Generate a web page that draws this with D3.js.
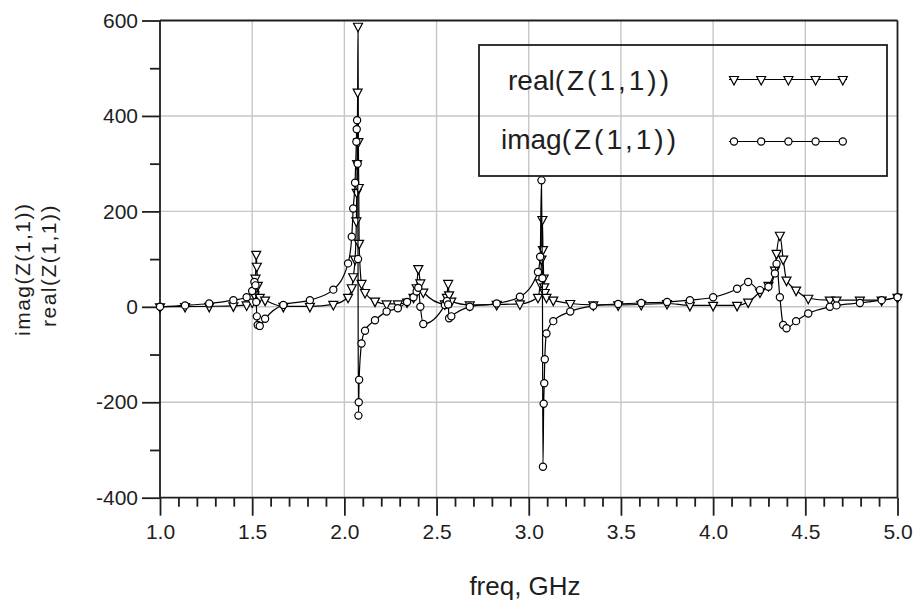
<!DOCTYPE html>
<html>
<head>
<meta charset="utf-8">
<script src="https://cdn.jsdelivr.net/npm/d3@7"></script>
<style>
  body { margin: 0; background: #fff; }
  svg { display: block; }
  text { font-family: "Liberation Sans", Arial, sans-serif; fill: #1e1e1e; }
</style>
</head>
<body>
<svg id="chart" width="916" height="605"></svg>
<script>
// Sweep frequencies (GHz) shared by both traces
const freq = [
  1.000, 1.136, 1.267, 1.398, 1.470, 1.500, 1.512, 1.518, 1.522, 1.525, 1.530, 1.541, 1.570,
  1.669, 1.813, 1.940, 2.020, 2.040, 2.048, 2.058, 2.065, 2.067, 2.069, 2.072, 2.074, 2.076,
  2.078, 2.080, 2.093, 2.112, 2.166, 2.229, 2.290, 2.340, 2.375, 2.392, 2.401, 2.412, 2.428,
  2.545, 2.556, 2.563, 2.568, 2.580, 2.680, 2.826, 2.952, 3.050, 3.062, 3.069, 3.074, 3.077,
  3.081, 3.084, 3.087, 3.096, 3.133, 3.225, 3.350, 3.485, 3.610, 3.750, 3.874, 4.000, 4.130,
  4.190, 4.254, 4.300, 4.335, 4.344, 4.362, 4.380, 4.398, 4.450, 4.516, 4.633, 4.669, 4.796,
  4.914, 5.000
];
// real(Z(1,1))
const realZ = [
  0, 0.5, 1, 2, 4, 10, 25, 60, 110, 85, 45, 20, 14,
  1, 1, 5, 20, 40, 63, 100, 180, 240, 300, 450, 588, 346,
  250, 133, 49, 30, 12, 6, 6, 10, 20, 40, 80, 50, 31,
  6, 20, 49, 25, 12, 4, 5, 6, 20, 50, 100, 183, 120,
  60, 42, 30, 20, 14, 7, 4, 4, 5, 7, 3, 3, 3,
  10, 31, 45, 77, 112, 150, 100, 56, 35, 18, 14, 14, 14,
  14, 20
];
// imag(Z(1,1))
const imagZ = [
  0, 3, 7, 14, 20, 33, 52, 45, 10, -20, -38, -40, -25,
  4, 14, 36, 91, 147, 206, 260, 346, 372, 391, 300, 100, -228,
  -200, -153, -77, -50, -28, -10, -3, 10, 20, 32, 40, 0, -36,
  4, 12, 5, -24, -20, 0, 7, 21, 73, 105, 265, 60, -335,
  -203, -160, -110, -56, -30, -10, 2, 6, 8, 10, 14, 20, 38,
  52, 35, 42, 70, 90, 20, -38, -45, -30, -14, 0, 3, 8,
  14, 20
];

const xMajorTicks = [1.0, 1.5, 2.0, 2.5, 3.0, 3.5, 4.0, 4.5, 5.0];
const yMajorTicks = [-400, -200, 0, 200, 400, 600];
const seriesNames = ["real(Z(1,1))", "imag(Z(1,1))"];
const xTitle = "freq, GHz";

const svg = d3.select("#chart");
const plotL = 160, plotR = 897.5, plotT = 20.5, plotB = 497.7;

const x = d3.scaleLinear().domain([1, 5]).range([plotL, plotR]);
const y = d3.scaleLinear().domain([-400, 600]).range([plotB, plotT]);

const xMinor = d3.range(10, 51).map(d => d / 10).filter(v => !xMajorTicks.some(t => Math.abs(t - v) < 1e-9));
const yMinor = d3.range(-300, 600, 200);

// grid
const grid = svg.append("g").attr("stroke", "#c6c6c6").attr("stroke-width", 1.4);
xMajorTicks.filter(t => t > 1 && t < 5).forEach(t =>
  grid.append("line").attr("x1", x(t)).attr("x2", x(t)).attr("y1", plotT).attr("y2", plotB));
yMajorTicks.filter(t => t > -400 && t < 600).forEach(t =>
  grid.append("line").attr("x1", plotL).attr("x2", plotR).attr("y1", y(t)).attr("y2", y(t)));

// axes
function styleAxis(g) {
  g.select(".domain").remove();
  g.selectAll(".tick line").attr("stroke", "#1e1e1e").attr("stroke-width", 1.8);
}
const labelFont = g => g.selectAll("text").attr("font-size", 21).attr("fill", "#1e1e1e")
  .attr("font-family", "'Liberation Sans', Arial, sans-serif");
svg.append("g").attr("transform", `translate(0,${plotB})`)
  .call(d3.axisBottom(x).tickValues(xMinor).tickSize(9).tickFormat(""))
  .call(styleAxis);
svg.append("g").attr("transform", `translate(0,${plotB})`)
  .call(d3.axisBottom(x).tickValues(xMajorTicks).tickSize(18).tickPadding(8).tickFormat(d => d.toFixed(1)))
  .call(styleAxis).call(labelFont);
svg.append("g").attr("transform", `translate(${plotL},0)`)
  .call(d3.axisLeft(y).tickValues(yMinor).tickSize(10).tickFormat(""))
  .call(styleAxis);
svg.append("g").attr("transform", `translate(${plotL},0)`)
  .call(d3.axisLeft(y).tickValues(yMajorTicks).tickSize(18).tickPadding(4).tickFormat(d => String(d)))
  .call(styleAxis).call(labelFont);

// frame
const frame = svg.append("g").attr("stroke", "#1e1e1e").attr("stroke-width", 1.8).attr("fill", "none");
frame.append("line").attr("x1", plotL).attr("x2", plotL).attr("y1", plotT).attr("y2", plotB);
frame.append("line").attr("x1", plotL).attr("x2", plotR).attr("y1", plotT).attr("y2", plotT);
frame.append("line").attr("x1", plotR).attr("x2", plotR).attr("y1", plotT).attr("y2", plotB);
frame.append("line").attr("x1", plotL).attr("x2", plotR).attr("y1", plotB).attr("y2", plotB);

// markers: open down-triangle for real, open circle for imag
const triPath = "M-4.5,-3L4.5,-3L0,5.5Z";
function drawMarker(g, kind, cx, cy) {
  if (kind === 0) {
    g.append("path").attr("d", triPath).attr("transform", `translate(${cx},${cy})`)
      .attr("fill", "#fff").attr("stroke", "#000").attr("stroke-width", 1.2);
  } else {
    g.append("circle").attr("cx", cx).attr("cy", cy).attr("r", 3.6)
      .attr("fill", "#fff").attr("stroke", "#000").attr("stroke-width", 1.2);
  }
}

// traces
const series = [realZ, imagZ];
const line = d3.line().x(d => x(d[0])).y(d => y(d[1])).curve(d3.curveMonotoneX);
series.forEach((vals, k) => {
  const pts = freq.map((f, i) => [f, vals[i]]);
  const g = svg.append("g");
  g.append("path").attr("d", line(pts)).attr("fill", "none").attr("stroke", "#000").attr("stroke-width", 1.2);
  pts.forEach(p => drawMarker(g, k, x(p[0]), y(p[1])));
});

// legend
const lg = svg.append("g");
lg.append("rect").attr("x", 479).attr("y", 45).attr("width", 408).attr("height", 131)
  .attr("fill", "none").attr("stroke", "#1e1e1e").attr("stroke-width", 1.8);
const legendRows = [{ ty: 90, ly: 79.5 }, { ty: 149, ly: 141.5 }];
seriesNames.forEach((name, k) => {
  const r = legendRows[k];
  const cut = name.indexOf("(");
  const t = lg.append("text").attr("x", 590).attr("y", r.ty).attr("text-anchor", "middle").attr("font-size", 28);
  t.append("tspan").text(name.slice(0, cut));
  t.append("tspan").attr("letter-spacing", 3).text(name.slice(cut));
  lg.append("line").attr("x1", 729).attr("x2", 847).attr("y1", r.ly).attr("y2", r.ly)
    .attr("stroke", "#000").attr("stroke-width", 1.2);
  d3.range(5).forEach(j => drawMarker(lg, k, 734 + j * 27.2, r.ly));
});

// axis titles
svg.append("text").attr("x", 525).attr("y", 595).attr("text-anchor", "middle").attr("font-size", 26).text(xTitle);
const yt = svg.append("g");
[seriesNames[1], seriesNames[0]].forEach((name, k) => {
  yt.append("text").attr("transform", `translate(${k === 0 ? 30 : 56},${k === 0 ? 336 : 327}) rotate(-90)`)
    .attr("font-size", 21).attr("letter-spacing", 1.5).text(name);
});
</script>
</body>
</html>
